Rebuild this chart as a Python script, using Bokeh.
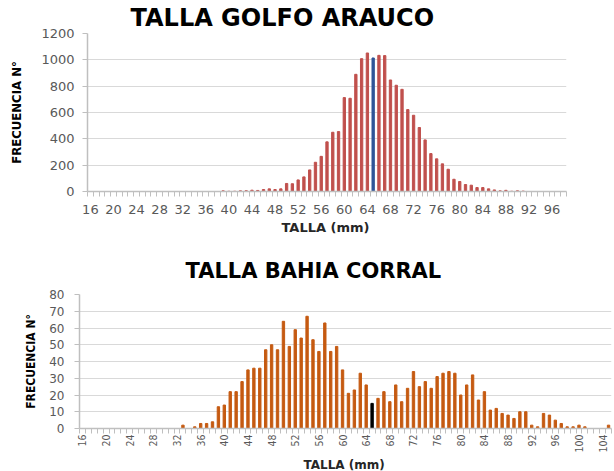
import math
from bokeh.plotting import figure
from bokeh.models import Range1d, FixedTicker, Title, ColumnDataSource
from bokeh.embed import file_html
from bokeh.resources import INLINE

# ---------------- data ----------------
top_sizes = list(range(16, 99))
top_freq = [0] * 23 + [
    5, 2, 2, 5, 6, 10, 8, 15, 20, 15, 20,            # 39-49
    61, 59, 88, 111, 164, 222, 267, 377, 450, 455,   # 50-59
    713, 708, 890, 1009, 1052, 1014, 1034, 1032, 847, 807,  # 60-69
    776, 622, 579, 486, 392, 288, 248, 210, 169, 93,        # 70-79
    76, 53, 48, 30, 30, 20, 12, 5, 9, 2,                    # 80-89
    5, 3] + [0] * 7                                          # 90-98
top_highlight = 65
top_ticks = list(range(16, 97, 4))

bottom_sizes = list(range(16, 106))
bottom_freq = [0] * 17 + [
    2, 0, 1, 3, 3, 4, 13,                            # 33-39
    14, 22, 22, 28, 35, 36, 36, 47, 50, 47,          # 40-49
    64, 49, 59, 54, 67, 53, 46, 63, 46, 49,          # 50-59
    35, 21, 23, 33, 26, 15, 18, 22, 16, 26,          # 60-69
    16, 24, 34, 25, 28, 24, 31, 33, 34, 33,          # 70-79
    20, 26, 32, 17, 22, 11, 12, 9, 8, 6,             # 80-89
    10, 10, 2, 1, 9, 8, 5, 3, 1, 1,                  # 90-99
    2, 1, 0, 0, 0, 2]                                # 100-105
bottom_highlight = 65
bottom_ticks = list(range(16, 105, 4))

NARROW = "Liberation Sans Narrow, DejaVu Sans Condensed, sans-serif"


def style(p, ticks, sizes, tick_font, tick_size, orient):
    p.outline_line_color = None
    p.xgrid.visible = False
    p.ygrid.grid_line_color = "#D9D9D9"
    p.ygrid.grid_line_width = 1
    xa = p.xaxis[0]
    bounds = [s - 0.5 for s in sizes] + [sizes[-1] + 0.5]
    xa.ticker = FixedTicker(ticks=ticks, minor_ticks=bounds)
    xa.axis_line_color = "#BFBFBF"
    xa.axis_line_width = 1.5
    xa.major_tick_out = 0
    xa.major_tick_in = 0
    xa.minor_tick_out = 5
    xa.minor_tick_in = 0
    xa.minor_tick_line_color = "#BFBFBF"
    xa.major_label_text_font = tick_font
    xa.major_label_text_font_size = tick_size
    xa.major_label_text_color = "#595959"
    if orient is not None:
        xa.major_label_orientation = orient
    ya = p.yaxis[0]
    ya.axis_line_color = "#BFBFBF"
    ya.axis_line_width = 1.5
    ya.major_tick_out = 5
    ya.major_tick_in = 0
    ya.minor_tick_line_color = None
    ya.major_tick_line_color = "#BFBFBF"
    ya.major_label_text_color = "#595959"
    ya.axis_label_text_font = NARROW
    ya.axis_label_text_font_style = "bold"
    ya.axis_label_text_color = "#000000"


# ---------------- top chart ----------------
top_colors = ["#2F5597" if s == top_highlight else "#C0504D" for s in top_sizes]
src_top = ColumnDataSource(dict(x=top_sizes, top=top_freq, color=top_colors))

p1 = figure(width=612, height=240, output_backend="svg", toolbar_location=None,
            x_range=Range1d(15.5, 98.5), y_range=Range1d(0, 1200),
            min_border_left=87, min_border_right=46, min_border_top=33, min_border_bottom=49)
p1.vbar(x="x", top="top", width=0.4, color="color", source=src_top)
style(p1, top_ticks, top_sizes, "DejaVu Sans", "13px", None)
p1.xaxis[0].major_label_standoff = 8
p1.yaxis[0].ticker = FixedTicker(ticks=[0, 200, 400, 600, 800, 1000, 1200])
p1.yaxis[0].major_label_text_font = "DejaVu Sans"
p1.yaxis[0].major_label_text_font_size = "13px"
p1.yaxis[0].major_label_standoff = 8
p1.yaxis[0].axis_label = "FRECUENCIA N°"
p1.yaxis[0].axis_label_text_font_size = "13px"
p1.yaxis[0].axis_label_standoff = 14

p1.title.text = "TALLA GOLFO ARAUCO"
p1.title.align = "left"
p1.title.offset = 43
p1.title.standoff = 3
p1.title.text_font = "DejaVu Sans"
p1.title.text_font_size = "24px"
p1.title.text_font_style = "bold"
p1.title.text_color = "#000000"
p1.add_layout(Title(text="TALLA (mm)", align="left", offset=194, standoff=2,
                    text_font="DejaVu Sans", text_font_size="13px",
                    text_font_style="bold", text_color="#262626"), "below")

# ---------------- bottom chart ----------------
bottom_colors = ["#000000" if s == bottom_highlight else "#C55A11" for s in bottom_sizes]
src_bot = ColumnDataSource(dict(x=bottom_sizes, top=bottom_freq, color=bottom_colors))

p2 = figure(width=612, height=231, output_backend="svg", toolbar_location=None,
            x_range=Range1d(15.5, 105.5), y_range=Range1d(0, 80),
            min_border_left=79, min_border_right=1, min_border_top=54, min_border_bottom=39)
p2.vbar(x="x", top="top", width=0.4, color="color", source=src_bot)
style(p2, bottom_ticks, bottom_sizes, NARROW, "10.5px", math.pi / 2)
p2.xaxis[0].major_label_standoff = 1
p2.yaxis[0].ticker = FixedTicker(ticks=list(range(0, 81, 10)))
p2.yaxis[0].major_label_text_font = "DejaVu Sans"
p2.yaxis[0].major_label_text_font_size = "12px"
p2.yaxis[0].major_label_standoff = 10
p2.yaxis[0].axis_label = "FRECUENCIA N°"
p2.yaxis[0].axis_label_text_font_size = "12px"
p2.yaxis[0].axis_label_standoff = 8

p2.title.text = "TALLA BAHIA CORRAL"
p2.title.align = "left"
p2.title.offset = 106
p2.title.standoff = 24
p2.title.text_font = "DejaVu Sans"
p2.title.text_font_size = "21px"
p2.title.text_font_style = "bold"
p2.title.text_color = "#000000"
p2.add_layout(Title(text="TALLA (mm)", align="left", offset=224, standoff=0,
                    text_font="DejaVu Sans", text_font_size="12px",
                    text_font_style="bold", text_color="#262626"), "below")

open("out.html", "w").write(file_html([p1, p2], INLINE))
